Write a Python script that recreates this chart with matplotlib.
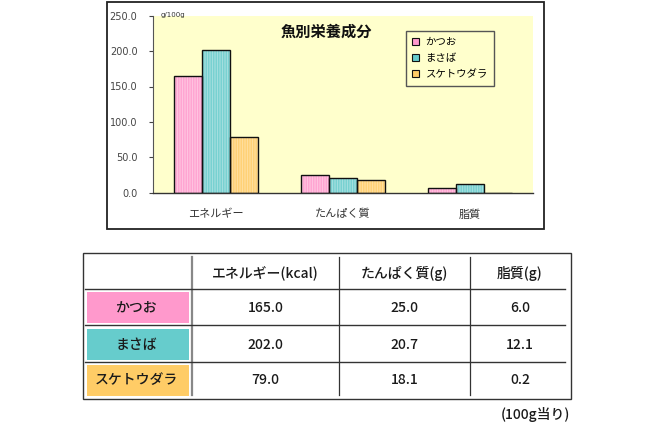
import matplotlib
matplotlib.use("Agg")
import matplotlib.pyplot as plt
from matplotlib.patches import Patch, Rectangle

plt.rcParams['font.family'] = ['Noto Sans CJK JP', 'DejaVu Sans']
plt.rcParams['hatch.linewidth'] = 0.6

# data
fish = ['かつお', 'まさば', 'スケトウダラ']
nutrients = ['エネルギー', 'たんぱく質', '脂質']
energy = [165.0, 202.0, 79.0]
protein = [25.0, 20.7, 18.1]
fat = [6.0, 12.1, 0.2]
table_headers = ['エネルギー(kcal)', 'たんぱく質(g)', '脂質(g)']
yticks = [0, 50, 100, 150, 200, 250]

base_colors = ['#ff99cc', '#66cccc', '#ffcc66']
stripe_colors = ['#ffcce4', '#b0e2e2', '#ffe2a8']

W, H = 650, 430
fig = plt.figure(figsize=(W / 100, H / 100), dpi=100)


def fx(px):
    return px / W


def fy(py):
    return 1 - py / H


# chart frame
frame = fig.add_axes([0, 0, 1, 1])
frame.set_xlim(0, W)
frame.set_ylim(H, 0)
frame.axis('off')
frame.add_patch(Rectangle((106.7, 1.5), 437.6, 227.8, fill=False, edgecolor='#222222', lw=1.3))

# bar chart
left, right, top, bottom = 152.7, 533.3, 15.7, 192.7
ax = fig.add_axes([fx(left), fy(bottom), fx(right - left), (bottom - top) / H])
ax.set_facecolor('#ffffcc')
values_by_fish = [[energy[i], protein[i], fat[i]] for i in range(3)]
bw = 0.22
for i, vals in enumerate(values_by_fish):
    xs = [k + (i - 1) * bw for k in range(len(nutrients))]
    ax.bar(xs, vals, bw, color=base_colors[i], edgecolor=stripe_colors[i],
           hatch='|' * 10, linewidth=0, zorder=2)
    ax.bar(xs, vals, bw, fill=False, edgecolor='#111111', linewidth=1.0, zorder=3)

ax.set_xlim(-0.5, len(nutrients) - 0.5)
ax.set_ylim(0, 250)
ax.set_yticks(yticks)
ax.set_yticklabels([f'{v:.1f}' for v in yticks], fontsize=7, color='#444444',
                   family=['DejaVu Sans'])
ax.tick_params(axis='y', direction='out', length=3, width=0.8, color='#444444', pad=8)
ax.set_xticks(range(len(nutrients)))
ax.set_xticklabels(nutrients, fontsize=8, color='#333333')
ax.tick_params(axis='x', length=0, pad=12)
for s in ['top', 'right']:
    ax.spines[s].set_visible(False)
ax.spines['left'].set_color('#555555')
ax.spines['left'].set_linewidth(0.8)
ax.spines['bottom'].set_color('#333333')
ax.spines['bottom'].set_linewidth(1.0)

fig.text(fx(326.7), fy(32), '魚別栄養成分', ha='center', va='center',
         fontsize=11, fontweight='bold', color='#111111')
fig.text(fx(161), fy(15.5), 'g/100g', ha='left', va='center', fontsize=5,
         color='#333333', family=['DejaVu Sans'])

handles = [Patch(facecolor=c, edgecolor='#111111', linewidth=0.8) for c in base_colors]
leg = ax.legend(handles, fish, loc='upper left', bbox_to_anchor=(fx(405.7), fy(30.7)),
                bbox_transform=fig.transFigure, borderaxespad=0, fontsize=7.5,
                handlelength=0.7, handleheight=0.7, handletextpad=0.6,
                labelspacing=0.6, borderpad=0.6, fancybox=False, framealpha=1,
                facecolor='#ffffcc', edgecolor='#555555')
leg.get_frame().set_linewidth(1.0)

# table
tl, tr, tt, tb = 82.7, 570.7, 253.3, 398.7
frame.add_patch(Rectangle((tl, tt), tr - tl, tb - tt, fill=False, edgecolor='#333333', lw=1.0))
col_x = [191.7, 339.3, 470.0]
for j, x in enumerate(col_x):
    frame.plot([x, x], [256.7, 395.3], color='#888888' if j == 0 else '#333333',
               lw=1.6 if j == 0 else 0.9)
for y in [289.3, 325.3, 362.3]:
    frame.plot([85, 565], [y, y], color='#333333', lw=1.0)

row_boxes = [(291.7, 323.0), (329.0, 360.0), (365.0, 396.0)]
row_y = [307.7, 345.0, 380.0]
col_centers = [265.5, 404.7, 520.0]
tkw = dict(fontsize=10, color='#1a1a1a', fontweight='medium')
for i, name in enumerate(fish):
    y0, y1 = row_boxes[i]
    frame.add_patch(Rectangle((86.7, y0), 102.6, y1 - y0, facecolor=base_colors[i],
                              edgecolor='none'))
    frame.text(136, row_y[i], name, ha='center', va='center', **tkw)
    cells = [energy[i], protein[i], fat[i]]
    for j, v in enumerate(cells):
        frame.text(col_centers[j], row_y[i], f'{v:.1f}', ha='center', va='center', **tkw)
for j, h in enumerate(table_headers):
    frame.text(col_centers[j], 273.3, h, ha='center', va='center', **tkw)

frame.text(570, 415, '(100g当り)', ha='right', va='center', **tkw)

fig.savefig('out.png', dpi=100)
